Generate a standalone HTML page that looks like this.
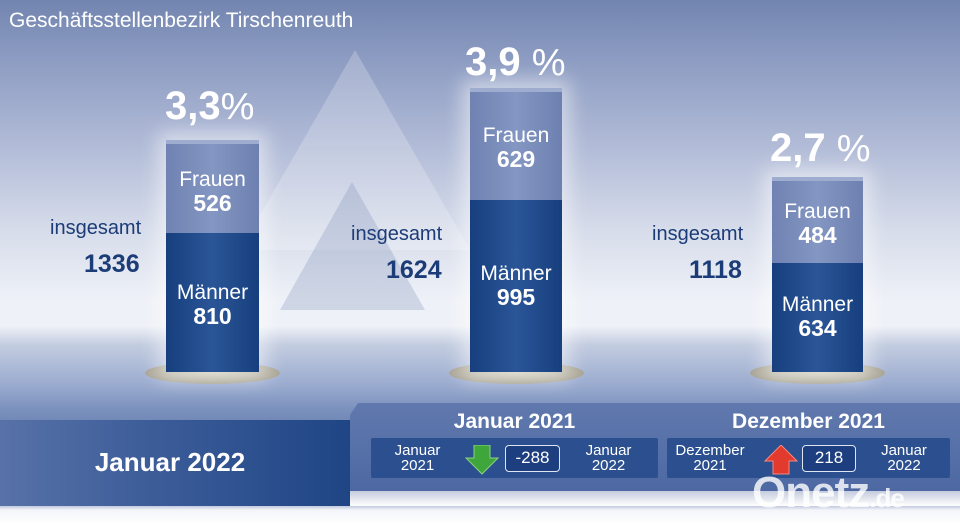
<!DOCTYPE html>
<html><head><meta charset="utf-8"><style>
*{margin:0;padding:0;box-sizing:border-box}
body{width:960px;height:524px;overflow:hidden;position:relative;font-family:"Liberation Sans",sans-serif;
background:linear-gradient(180deg,#7285b0 0px,#8d9cc2 60px,#b3bdd8 150px,#d6dcea 230px,#eef1f7 300px,#eef1f7 326px,#c3cce0 345px,#9aabcf 385px,#7a90bd 410px,#6f86b5 425px,#6f86b5 500px,#f4f5f9 510px,#fff 524px)}
.abs{position:absolute}
.t{color:#fff}
.bar{position:absolute;text-align:center;color:#fff;box-shadow:0 0 18px 8px rgba(255,255,255,0.5)}
.fr{position:absolute;left:0;right:0;background:linear-gradient(90deg,#6f82b2,#8496c2 50%,#6d80b0);border-top:4px solid #9eacd0}
.ma{position:absolute;left:0;right:0;background:linear-gradient(90deg,#173f7e,#2a5597 50%,#173f7e)}
.lbl{font-size:21px;line-height:23px}
.num{font-size:23px;font-weight:bold;line-height:25px}
.pct{position:absolute;color:#fff;font-size:40px;font-weight:bold}
.pct span{font-weight:normal;font-size:38px}
.ins{position:absolute;color:#1c3c78;font-size:20px}
.tot{position:absolute;color:#1c3c78;font-size:25px;font-weight:bold}
.ell{position:absolute;height:22px;border-radius:50%;background:radial-gradient(ellipse,#c9c4b2,#9a9688)}
.sub{position:absolute;background:#2b4f8f;border-radius:2px;color:#fff;font-size:15px;line-height:15px;text-align:center}
.box{position:absolute;border:1.5px solid #dfe6f2;border-radius:4px;background:#1d3f80;color:#fff;font-size:17px;text-align:center;line-height:24px}
</style></head><body>
<svg class="abs" style="left:0;top:0" width="960" height="400">
<polygon points="355,50 240,250 470,250" fill="#ffffff" opacity="0.22"/>
<polygon points="352,182 280,310 425,310" fill="#6f82b0" opacity="0.25"/>
</svg>
<div class="abs t" style="left:9px;top:9px;font-size:21px">Geschäftsstellenbezirk Tirschenreuth</div>

<div class="ell" style="left:145px;top:362px;width:135px"></div>
<div class="ell" style="left:449px;top:362px;width:135px"></div>
<div class="ell" style="left:750px;top:362px;width:135px"></div>

<div class="pct" style="left:165px;top:84px">3,3<span>%</span></div>
<div class="pct" style="left:465px;top:40px">3,9 <span>%</span></div>
<div class="pct" style="left:770px;top:126px">2,7 <span>%</span></div>

<div class="bar" style="left:166px;top:140px;width:93px;height:232px">
<div class="fr" style="top:0;height:93px;padding-top:24px"><div class="lbl">Frauen</div><div class="num">526</div></div>
<div class="ma" style="top:93px;bottom:0;padding-top:48px"><div class="lbl">Männer</div><div class="num">810</div></div>
</div>
<div class="bar" style="left:470px;top:88px;width:92px;height:284px">
<div class="fr" style="top:0;height:112px;padding-top:32px"><div class="lbl">Frauen</div><div class="num">629</div></div>
<div class="ma" style="top:112px;bottom:0;padding-top:62px"><div class="lbl">Männer</div><div class="num">995</div></div>
</div>
<div class="bar" style="left:772px;top:177px;width:91px;height:195px">
<div class="fr" style="top:0;height:86px;padding-top:19px"><div class="lbl">Frauen</div><div class="num">484</div></div>
<div class="ma" style="top:86px;bottom:0;padding-top:30px"><div class="lbl">Männer</div><div class="num">634</div></div>
</div>

<div class="ins" style="left:50px;top:217px">insgesamt</div><div class="tot" style="left:84px;top:250px">1336</div>
<div class="ins" style="left:351px;top:223px">insgesamt</div><div class="tot" style="left:386px;top:256px">1624</div>
<div class="ins" style="left:652px;top:223px">insgesamt</div><div class="tot" style="left:689px;top:256px">1118</div>

<div class="abs" style="left:0;top:420px;width:350px;height:86px;background:linear-gradient(90deg,#5872a8,#3e5e9a 40%,#1f4585)"></div>
<div class="abs t" style="left:0;width:340px;top:447px;text-align:center;font-size:26px;font-weight:bold">Januar 2022</div>
<div class="abs" style="left:350px;top:403px;width:610px;height:88px;background:linear-gradient(180deg,#6078ad,#5570a8 60%,#4d68a2);clip-path:polygon(8px 0,100% 0,100% 100%,0 100%,0 12px)"></div>
<div class="abs" style="left:350px;top:491px;width:610px;height:15px;background:linear-gradient(180deg,#c5ccdd,#fff)"></div>
<div class="abs t" style="left:371px;width:287px;top:410px;text-align:center;font-size:21px;font-weight:bold">Januar 2021</div>
<div class="abs t" style="left:667px;width:283px;top:410px;text-align:center;font-size:21px;font-weight:bold">Dezember 2021</div>

<div class="sub" style="left:371px;top:438px;width:287px;height:40px">
<div class="abs" style="left:14px;top:5px;width:65px">Januar<br>2021</div>
<svg class="abs" style="left:94px;top:7px" width="34" height="30"><polygon points="9,0 25,0 25,13 33,13 17,29 1,13 9,13" fill="#3fa63c" stroke="#8ad17f"/></svg>
<div class="box" style="left:134px;top:7px;width:55px;height:27px">-288</div>
<div class="abs" style="left:205px;top:5px;width:65px">Januar<br>2022</div>
</div>
<div class="sub" style="left:667px;top:438px;width:283px;height:40px">
<div class="abs" style="left:3px;top:5px;width:80px">Dezember<br>2021</div>
<svg class="abs" style="left:97px;top:7px" width="34" height="30"><polygon points="9,29 25,29 25,16 33,16 17,0 1,16 9,16" fill="#e33a2e" stroke="#f28a80"/></svg>
<div class="box" style="left:135px;top:7px;width:54px;height:27px">218</div>
<div class="abs" style="left:202px;top:5px;width:70px">Januar<br>2022</div>
</div>
<div class="abs" style="left:752px;top:468px;font-size:44px;font-weight:bold;color:rgba(255,255,255,0.8);letter-spacing:-1px">Onetz<span style="font-size:26px">.de</span></div>
</body></html>
